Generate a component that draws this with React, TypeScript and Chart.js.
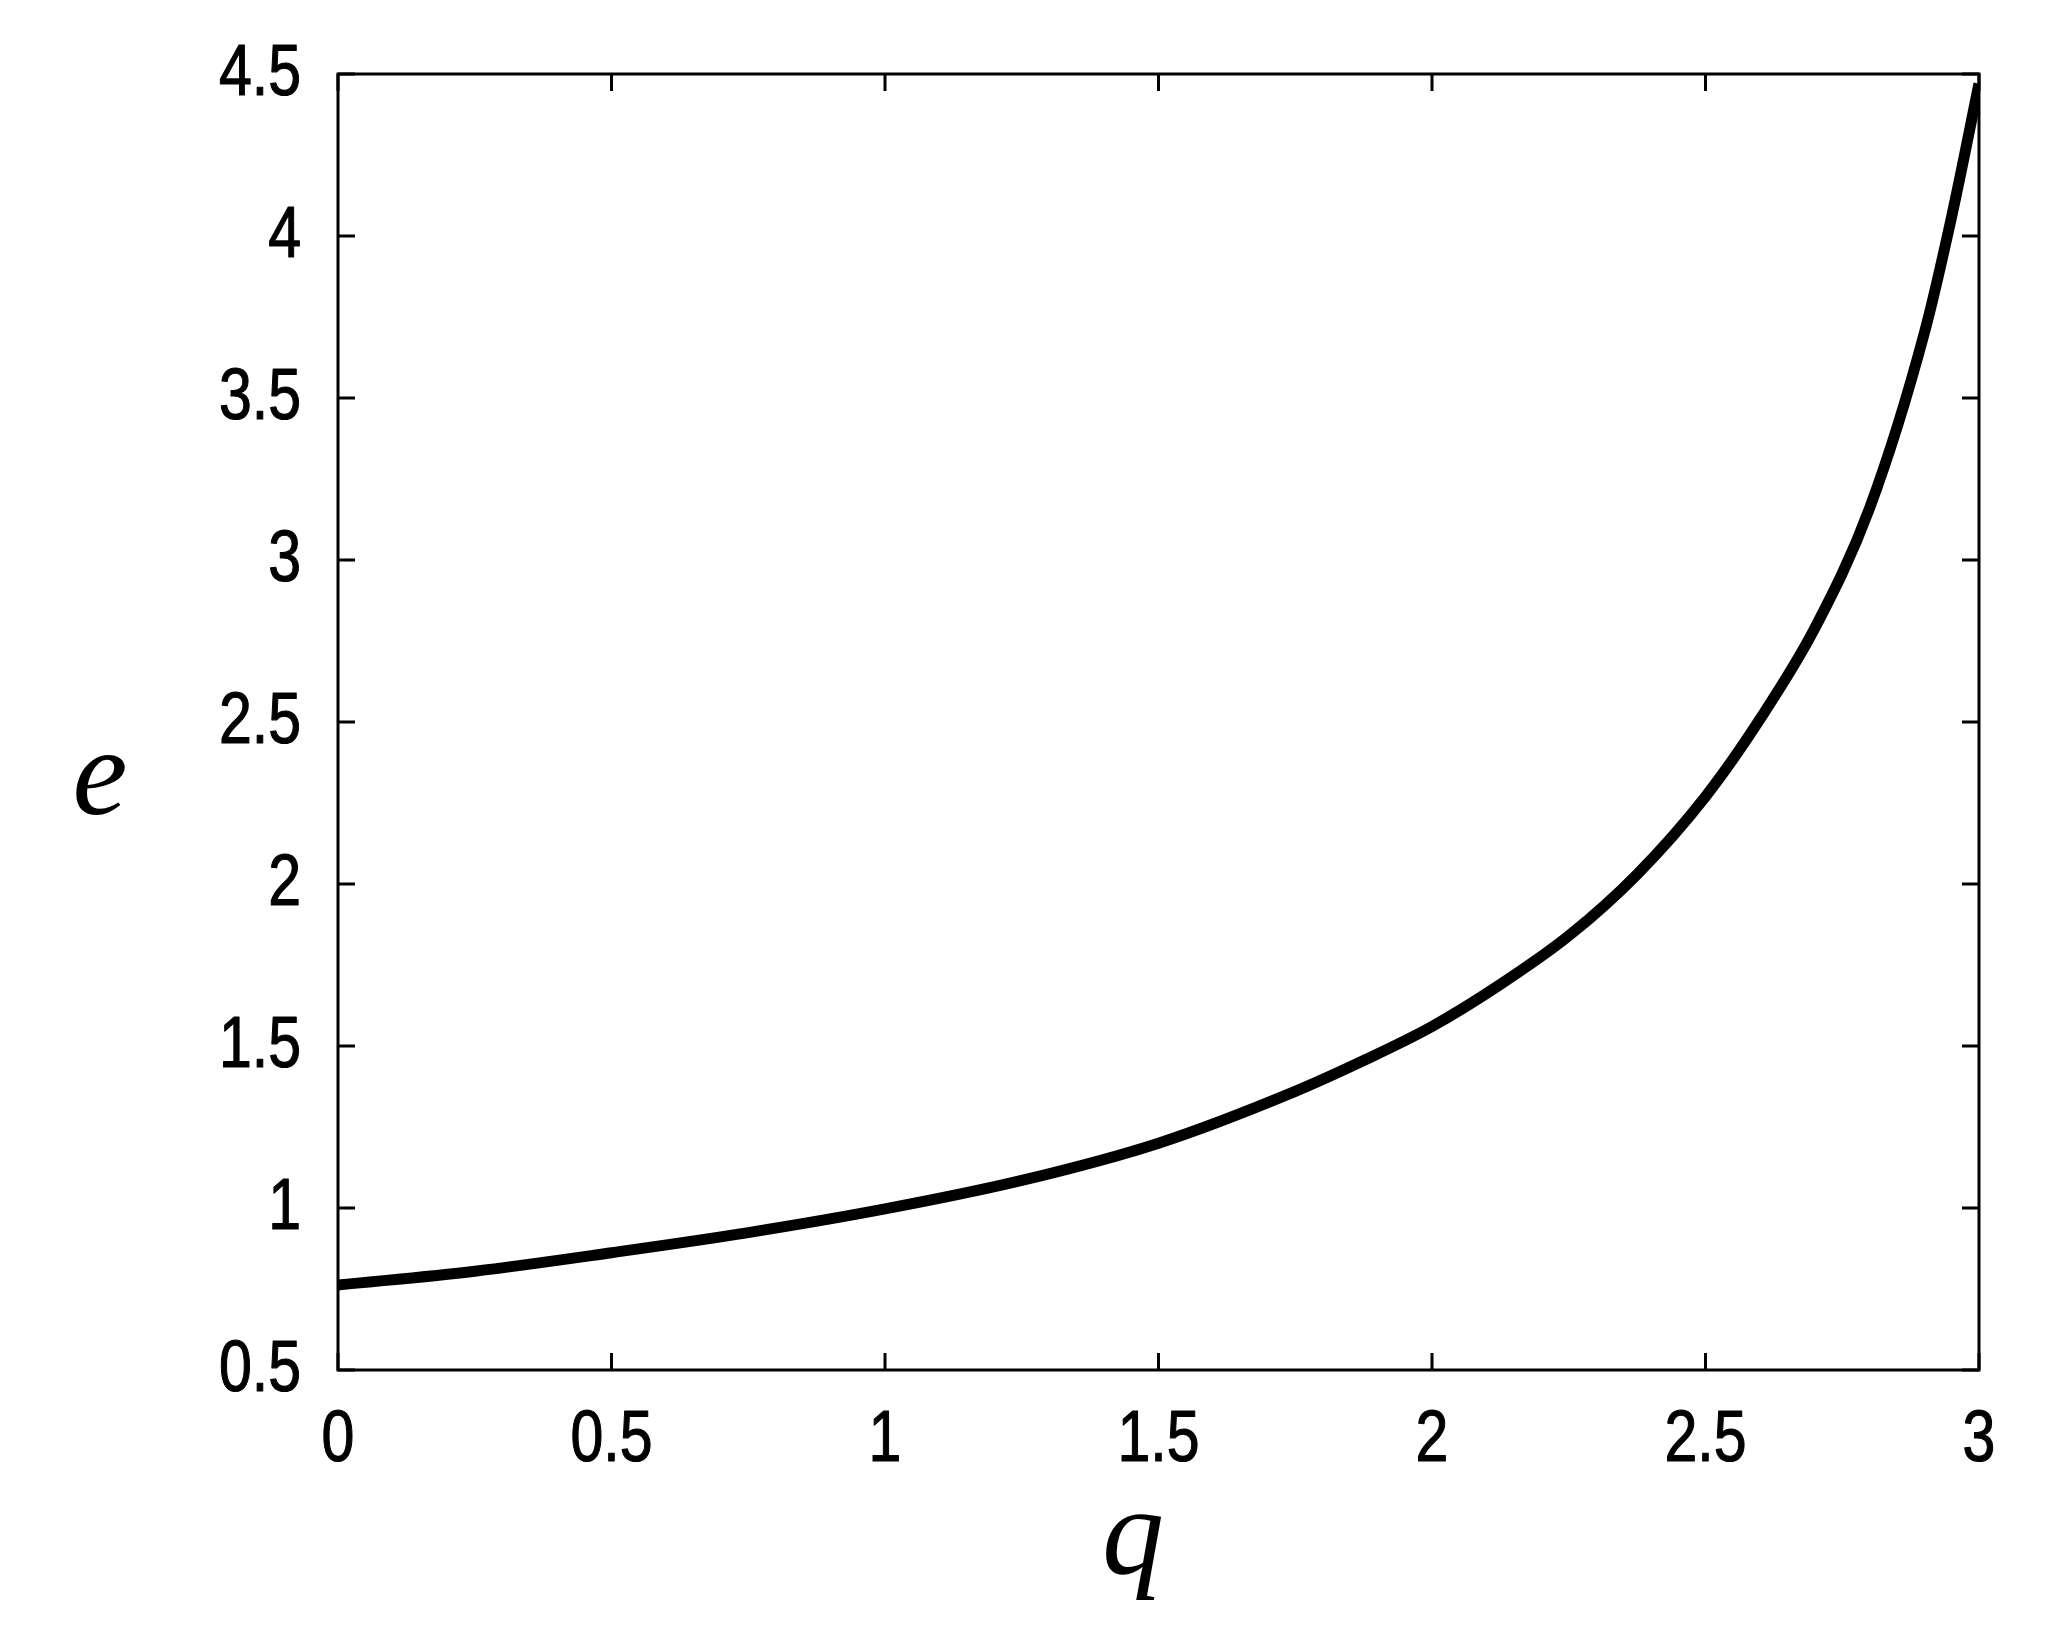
import React, { useEffect, useRef } from "react";
import { Chart, registerables } from "chart.js";

Chart.register(...registerables);

// q values (x) and e values (y)
const qValues = [0, 0.25, 0.5, 0.75, 1.0, 1.25, 1.5, 1.75, 1.875, 2.0, 2.125, 2.25, 2.375, 2.5, 2.6, 2.7, 2.8, 2.9, 2.95, 3.0];
const eValues = [0.762, 0.805, 0.862, 0.924, 0.997, 1.085, 1.2, 1.36, 1.455, 1.56, 1.69, 1.84, 2.03, 2.27, 2.51, 2.79, 3.16, 3.7, 4.06, 4.47];

const xTickLabels = ["0", "0.5", "1", "1.5", "2", "2.5", "3"];
const yTickLabels = ["0.5", "1", "1.5", "2", "2.5", "3", "3.5", "4", "4.5"];

const xTitle = "q";
const yTitle = "e";

const TICK_FONT = "'Liberation Sans', Arial, sans-serif";
const TITLE_FONT = "'Liberation Serif', 'DejaVu Serif', serif";

const framePlugin = {
  id: "framePlugin",
  afterDraw(chart: any) {
    const ctx = chart.ctx;
    const { left, right, top, bottom } = chart.chartArea;
    const xs = chart.scales.x;
    const ys = chart.scales.y;
    ctx.save();
    ctx.strokeStyle = "#000";
    ctx.lineWidth = 3;
    ctx.strokeRect(left, top, right - left, bottom - top);
    const tl = 17;
    ctx.beginPath();
    xs.ticks.forEach((t: any) => {
      const px = xs.getPixelForValue(t.value);
      ctx.moveTo(px, bottom);
      ctx.lineTo(px, bottom - tl);
      ctx.moveTo(px, top);
      ctx.lineTo(px, top + tl);
    });
    ys.ticks.forEach((t: any) => {
      const py = ys.getPixelForValue(t.value);
      ctx.moveTo(left, py);
      ctx.lineTo(left + tl, py);
      ctx.moveTo(right, py);
      ctx.lineTo(right - tl, py);
    });
    ctx.stroke();

    // tick labels (narrow sans), positioned through the scales
    ctx.fillStyle = "#000";
    ctx.strokeStyle = "#000";
    ctx.lineWidth = 1.2;
    ctx.lineJoin = "round";
    ctx.font = `72px ${TICK_FONT}`;
    ctx.textBaseline = "middle";
    ctx.textAlign = "right";
    ys.ticks.forEach((t: any, i: number) => {
      const py = ys.getPixelForValue(t.value);
      ctx.save();
      ctx.translate(left - 37, py + 1);
      ctx.scale(0.82, 1);
      ctx.fillText(yTickLabels[i], 0, 0);
      ctx.strokeText(yTickLabels[i], 0, 0);
      ctx.restore();
    });
    ctx.textAlign = "center";
    xs.ticks.forEach((t: any, i: number) => {
      const px = xs.getPixelForValue(t.value);
      ctx.save();
      ctx.translate(px, bottom + 71);
      ctx.scale(0.82, 1);
      ctx.fillText(xTickLabels[i], 0, 0);
      ctx.strokeText(xTickLabels[i], 0, 0);
      ctx.restore();
    });

    ctx.font = `italic 124px ${TITLE_FONT}`;
    ctx.textAlign = "center";
    ctx.textBaseline = "alphabetic";
    ctx.fillText(xTitle, 1133, 1573);
    ctx.fillText(yTitle, 100, 814);
    ctx.restore();
  },
};

export default function App() {
  const canvasRef = useRef<HTMLCanvasElement | null>(null);

  useEffect(() => {
    document.body.style.margin = "0";
    const canvas = canvasRef.current;
    if (!canvas) return;
    const data = qValues.map((q, i) => ({ x: q, y: eValues[i] }));
    const chart = new Chart(canvas, {
      type: "line",
      data: {
        datasets: [
          {
            data,
            borderColor: "#000",
            borderWidth: 11,
            pointRadius: 0,
            fill: false,
            cubicInterpolationMode: "monotone",
            borderCapStyle: "butt",
          } as any,
        ],
      },
      options: {
        animation: false,
        responsive: false,
        maintainAspectRatio: false,
        devicePixelRatio: 1,
        layout: { padding: { left: 0, top: 74, right: 80, bottom: 0 } },
        plugins: {
          legend: { display: false },
          tooltip: { enabled: false },
          title: { display: false },
        },
        scales: {
          x: {
            type: "linear",
            min: 0,
            max: 3,
            grid: { display: false, drawTicks: false },
            border: { display: false },
            ticks: {
              display: false,
              stepSize: 0.5,
              autoSkip: false,
            },
            afterFit: (scale: any) => {
              scale.height = 278;
            },
          },
          y: {
            type: "linear",
            min: 0.5,
            max: 4.5,
            grid: { display: false, drawTicks: false },
            border: { display: false },
            ticks: {
              display: false,
              stepSize: 0.5,
              autoSkip: false,
            },
            afterFit: (scale: any) => {
              scale.width = 338;
            },
          },
        },
      },
      plugins: [framePlugin],
    });
    return () => chart.destroy();
  }, []);

  return (
    <div style={{ width: 2059, height: 1648, background: "#fff" }}>
      <canvas ref={canvasRef} width={2059} height={1648} style={{ display: "block", width: 2059, height: 1648 }} />
    </div>
  );
}
